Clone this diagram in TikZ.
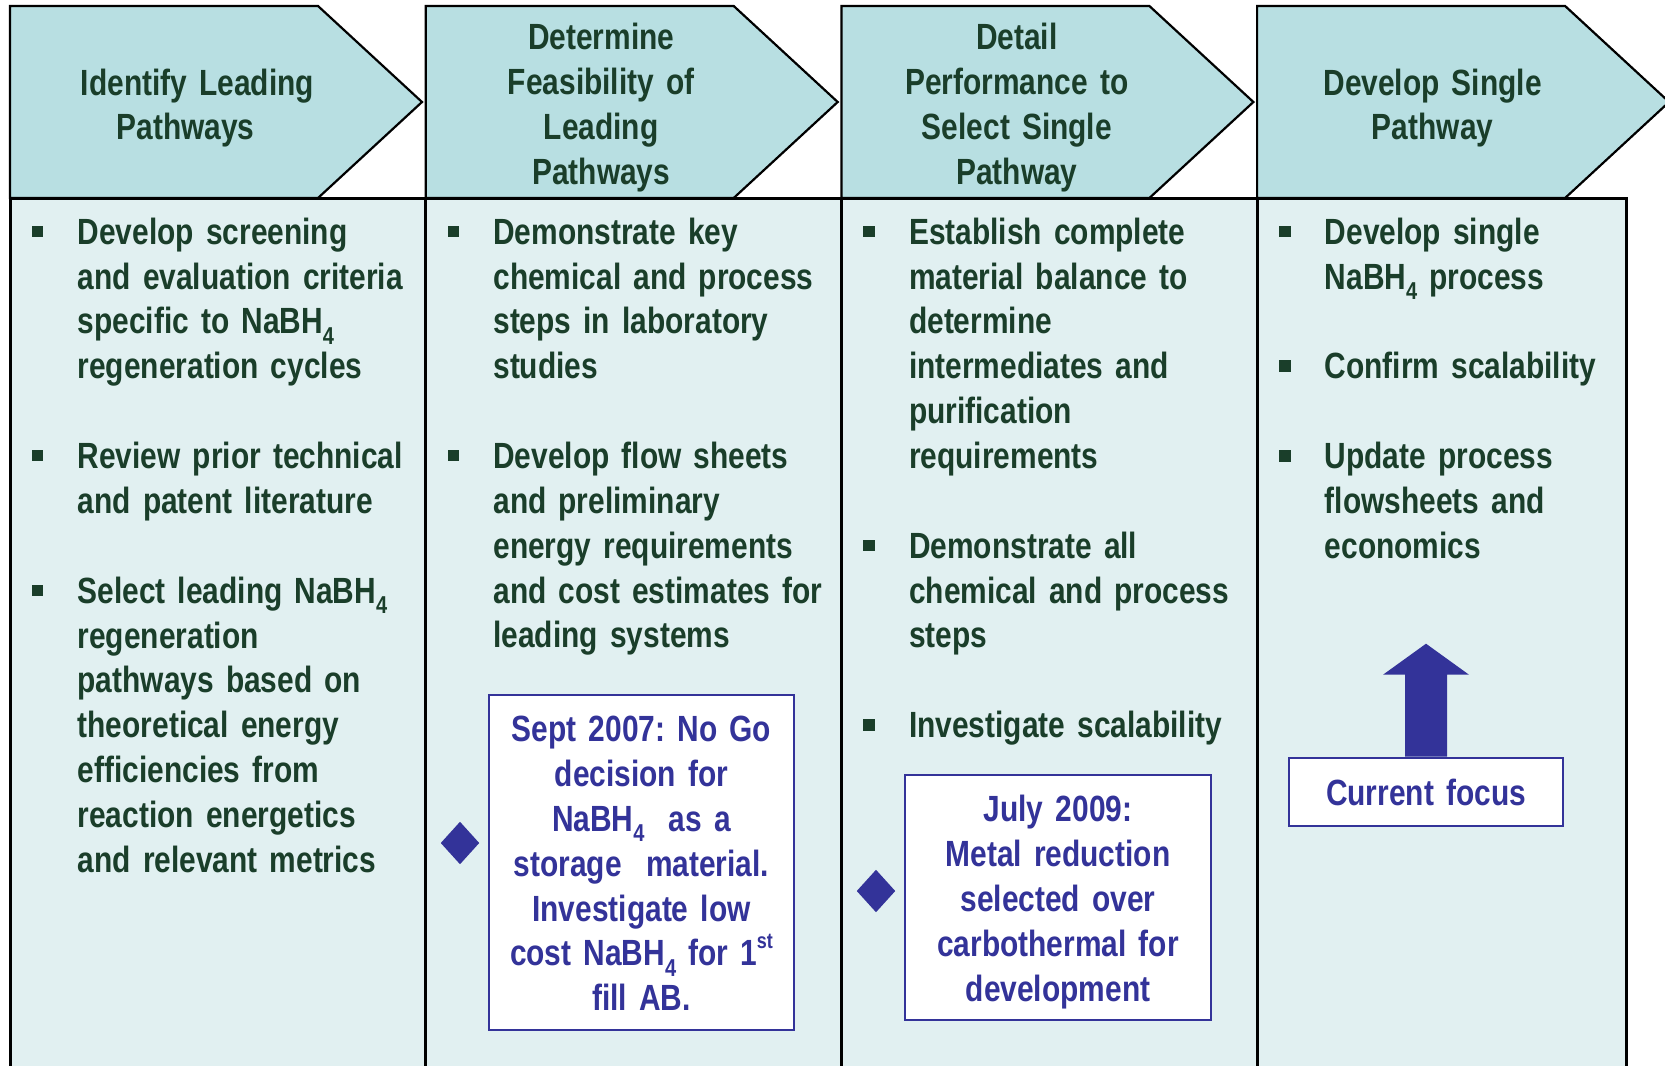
\documentclass[tikz,border=0pt]{standalone}
\usepackage{fontspec}
\setmainfont{Liberation Sans}[FakeStretch=0.82]
\usetikzlibrary{calc,shapes.geometric}

\definecolor{headfill}{RGB}{184,223,226}
\definecolor{bodyfill}{RGB}{225,240,241}
\definecolor{txtgreen}{RGB}{26,62,42}
\definecolor{navy}{RGB}{51,51,153}

% chemical subscript and ordinal superscript
\newcommand\chemsub[1]{\raisebox{-0.28em}{\fontsize{24.5}{24.5}\selectfont #1}}
\newcommand\supst[1]{\raisebox{0.48em}{\fontsize{22}{22}\selectfont #1}}
% square bullet and hanging indent for list lines
\newcommand\bitem{\makebox[45.8bp][l]{\rule[7.2bp]{11.5bp}{11.5bp}}}
\newcommand\cont{\hspace*{45.8bp}}

\tikzset{
  headbox/.style={fill=headfill, draw=black, line width=2.2bp, line join=miter},
  bodybox/.style={fill=bodyfill, draw=black, line width=3bp},
  headtxt/.style={anchor=base, inner sep=0, text width=330bp, align=center,
    font=\fontsize{36.6}{45}\selectfont\bfseries, text=txtgreen},
  bodytxt/.style={anchor=base west, inner sep=0, text width=400bp, align=left,
    font=\fontsize{36.6}{45}\selectfont\bfseries, text=txtgreen},
  milestone/.style={draw=navy, line width=2.6bp, fill=white, inner sep=0},
  milestonetxt/.style={anchor=base, inner sep=0, text=navy, text width=320bp, align=center,
    font=\fontsize{36.6}{45}\selectfont\bfseries},
  gem/.style={diamond, fill=navy, inner sep=0, minimum width=38.6bp, minimum height=42.6bp}
}

\begin{document}
\frenchspacing
\begin{tikzpicture}[x=1bp,y=-1bp]
\useasboundingbox (0,0) rectangle (1665,1065);

% column bodies
\filldraw[bodybox] (10,198) rectangle (425.7,1090);
\filldraw[bodybox] (425.7,198) rectangle (841.4,1090);
\filldraw[bodybox] (841.4,198) rectangle (1257.1,1090);
\filldraw[bodybox] (1257.1,198) rectangle (1626,1090);

% chevron headers
\foreach \L in {10,425.7,841.4,1257.1}{
  \filldraw[headbox] (\L,6) -- ++(308,0) -- ++(104,96) -- ++(-104,96) -- ++(-308,0) -- cycle;
}

% header titles
\node[headtxt] (h1) at (185.5,95) {\hspace*{24bp}Identify Leading\\ Pathways};
\node[headtxt] (h2) at (601.2,49.5) {Determine\\ Feasibility of\\ Leading\\ Pathways};
\node[headtxt] (h3) at (1016.9,49.5) {Detail\\ Performance to\\ Select Single\\ Pathway};
\node[headtxt] (h4) at (1432.6,95) {Develop Single\\ Pathway};

% task lists
\node[bodytxt] (t1) at (31.7,244.3) {%
\bitem Develop screening\\
\cont and evaluation criteria\\
\cont specific to NaBH\chemsub{4}\\
\cont regeneration cycles\\[45bp]
\bitem Review prior technical\\
\cont and patent literature\\[45bp]
\bitem Select leading NaBH\chemsub{4}\\
\cont regeneration\\
\cont pathways based on\\
\cont theoretical energy\\
\cont efficiencies from\\
\cont reaction energetics\\
\cont and relevant metrics};

\node[bodytxt] (t2) at (447.4,244.3) {%
\bitem Demonstrate key\\
\cont chemical and process\\
\cont steps in laboratory\\
\cont studies\\[45bp]
\bitem Develop flow sheets\\
\cont and preliminary\\
\cont energy requirements\\
\cont and cost estimates for\\
\cont leading systems};

\node[bodytxt] (t3) at (863.1,244.3) {%
\bitem Establish complete\\
\cont material balance to\\
\cont determine\\
\cont intermediates and\\
\cont purification\\
\cont requirements\\[45bp]
\bitem Demonstrate all\\
\cont chemical and process\\
\cont steps\\[45bp]
\bitem Investigate scalability};

\node[bodytxt] (t4) at (1278.8,244.3) {%
\bitem Develop single\\
\cont NaBH\chemsub{4} process\\[45bp]
\bitem Confirm scalability\\[45bp]
\bitem Update process\\
\cont flowsheets and\\
\cont economics};

% milestones
\node[milestone, minimum width=305bp, minimum height=335bp] (m1) at (641.5,862.5) {};
\node[milestonetxt] (m1t) at (641.5,741.7)
  {Sept 2007: No Go\\ decision for\\ NaBH\chemsub{4} \ as a\\ storage \ material.\\
   Investigate low\\ cost NaBH\chemsub{4} for 1\supst{st}\\ fill AB.};
\node[gem] (d1) at (460,843) {};

\node[milestone, minimum width=306bp, minimum height=245bp] (m2) at (1058,897.5) {};
\node[milestonetxt] (m2t) at (1058,821.7)
  {July 2009:\\ Metal reduction\\ selected over\\ carbothermal for\\ development};
\node[gem] (d2) at (876,891) {};

% current focus marker
\node[milestone, minimum width=274bp, minimum height=68bp] (focus) at (1426,792) {};
\node[milestonetxt] (focust) at (1426,805) {Current focus};
\fill[navy] ([xshift=-21bp]focus.north) -- ([xshift=-21bp,yshift=82bp]focus.north)
  -- ([xshift=-43bp,yshift=82bp]focus.north) -- ([yshift=113bp]focus.north)
  -- ([xshift=43bp,yshift=82bp]focus.north) -- ([xshift=21bp,yshift=82bp]focus.north)
  -- ([xshift=21bp]focus.north) -- cycle;
\end{tikzpicture}
\end{document}
